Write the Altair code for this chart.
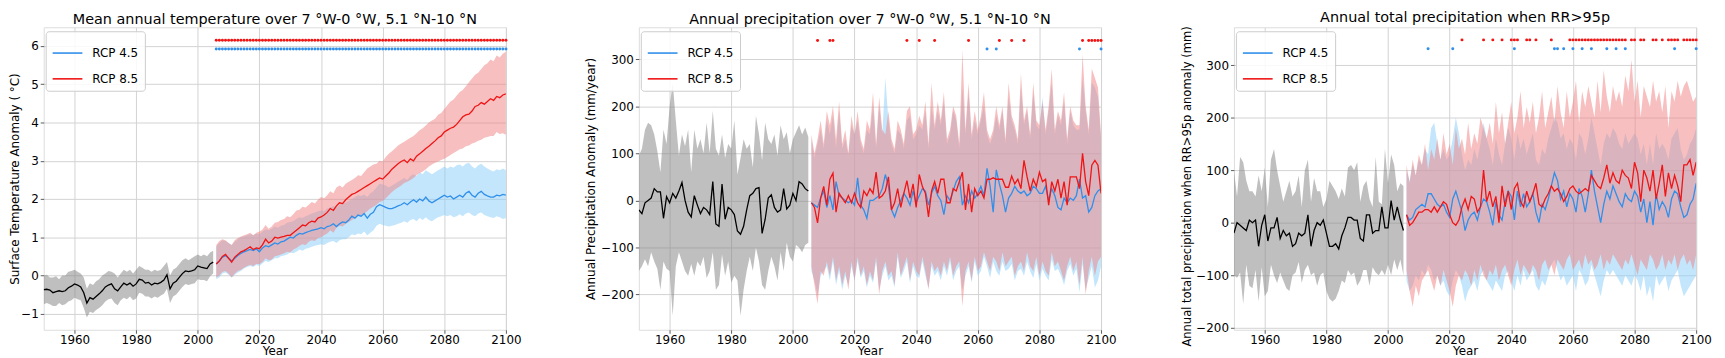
import altair as alt
import pandas as pd

X_TICKS = [1960, 1980, 2000, 2020, 2040, 2060, 2080, 2100]
HIST_START = 1950
PROJ_START = 2006

BLUE = "#2f8fea"
RED = "#f01414"
BAND_HIST = "#808080"
BAND_45 = "#87cefa"
BAND_85 = "#f08080"

# ---------------- Panel 1: temperature ----------------
t_hist = [-0.37, -0.36, -0.38, -0.45, -0.42, -0.40, -0.42, -0.40, -0.32, -0.28,
          -0.22, -0.25, -0.30, -0.45, -0.72, -0.58, -0.62, -0.55, -0.48, -0.40,
          -0.30, -0.25, -0.22, -0.35, -0.40, -0.30, -0.20, -0.25, -0.20, -0.28,
          -0.22, -0.10, -0.12, -0.20, -0.18, -0.25, -0.20, -0.22, -0.18, -0.12,
          0.02, -0.35, -0.20, -0.15, -0.05, 0.05, 0.12, 0.10, 0.12, 0.15,
          0.25, 0.22, 0.20, 0.18, 0.30, 0.35]
t_hist_hi = [0.00, 0.02, -0.05, -0.05, -0.02, -0.10, 0.00, 0.00, 0.10, 0.12,
             0.15, 0.10, 0.05, -0.05, -0.35, -0.20, -0.25, -0.15, -0.10, 0.00,
             0.05, 0.12, 0.10, 0.05, -0.05, 0.05, 0.15, 0.10, 0.15, 0.05,
             0.15, 0.25, 0.20, 0.15, 0.15, 0.10, 0.15, 0.12, 0.15, 0.25,
             0.35, 0.00, 0.15, 0.20, 0.30, 0.40, 0.45, 0.40, 0.45, 0.50,
             0.55, 0.50, 0.55, 0.50, 0.60, 0.65]
t_hist_lo = [-0.75, -0.72, -0.75, -0.80, -0.80, -0.72, -0.78, -0.75, -0.68, -0.65,
             -0.58, -0.62, -0.65, -0.85, -1.10, -0.95, -0.98, -0.90, -0.85, -0.78,
             -0.68, -0.62, -0.60, -0.72, -0.78, -0.65, -0.58, -0.62, -0.55, -0.65,
             -0.60, -0.45, -0.48, -0.55, -0.55, -0.60, -0.55, -0.58, -0.52, -0.48,
             -0.35, -0.72, -0.55, -0.50, -0.40, -0.30, -0.22, -0.25, -0.22, -0.20,
             -0.10, -0.12, -0.12, -0.15, -0.02, 0.05]

t_85 = [0.30, 0.38, 0.50, 0.55, 0.45, 0.35, 0.48, 0.55, 0.62, 0.65,
        0.70, 0.75, 0.68, 0.72, 0.70, 0.80, 0.95, 0.85, 0.90, 1.00,
        0.98, 1.00, 1.02, 1.05, 1.05, 1.12, 1.18, 1.25, 1.32, 1.30,
        1.38, 1.42, 1.40, 1.50, 1.53, 1.58, 1.65, 1.75, 1.70, 1.82,
        1.90, 1.88, 1.98, 2.05, 2.12, 2.15, 2.20, 2.25, 2.30, 2.35,
        2.40, 2.45, 2.50, 2.55, 2.52, 2.60, 2.68, 2.78, 2.85, 2.92,
        2.98, 3.02, 2.95, 3.05, 3.00, 3.12, 3.18, 3.25, 3.32, 3.38,
        3.45, 3.52, 3.60, 3.65, 3.75, 3.80, 3.85, 3.88, 3.95, 4.05,
        4.15, 4.20, 4.22, 4.30, 4.42, 4.45, 4.52, 4.48, 4.55, 4.62,
        4.58, 4.68, 4.65, 4.72, 4.75]
t_85_hi = [0.80, 0.90, 0.95, 0.92, 0.85, 0.80, 0.92, 0.98, 1.02, 1.05,
           1.08, 1.12, 1.05, 1.12, 1.15, 1.20, 1.32, 1.22, 1.28, 1.38,
           1.40, 1.45, 1.48, 1.55, 1.52, 1.60, 1.70, 1.72, 1.80, 1.78,
           1.85, 1.92, 1.88, 1.98, 2.05, 2.02, 2.10, 2.20, 2.15, 2.30,
           2.35, 2.30, 2.40, 2.45, 2.50, 2.55, 2.62, 2.60, 2.70, 2.80,
           2.85, 2.90, 2.92, 3.00, 2.98, 3.10, 3.18, 3.25, 3.32, 3.40,
           3.45, 3.50, 3.55, 3.60, 3.65, 3.72, 3.80, 3.85, 3.92, 4.00,
           4.05, 4.10, 4.20, 4.25, 4.35, 4.45, 4.55, 4.60, 4.70, 4.80,
           4.85, 4.95, 5.05, 5.15, 5.25, 5.30, 5.40, 5.50, 5.55, 5.65,
           5.60, 5.75, 5.70, 5.80, 5.85]
t_85_lo = [-0.05, 0.00, 0.10, 0.12, 0.05, -0.05, 0.05, 0.12, 0.15, 0.20,
           0.25, 0.28, 0.25, 0.30, 0.30, 0.35, 0.45, 0.40, 0.42, 0.50,
           0.52, 0.55, 0.58, 0.62, 0.60, 0.68, 0.72, 0.78, 0.82, 0.80,
           0.88, 0.92, 0.90, 0.98, 1.00, 1.05, 1.10, 1.18, 1.12, 1.25,
           1.30, 1.28, 1.35, 1.40, 1.45, 1.50, 1.55, 1.58, 1.62, 1.68,
           1.75, 1.80, 1.85, 1.92, 1.95, 2.02, 2.10, 2.18, 2.25, 2.30,
           2.35, 2.42, 2.45, 2.50, 2.55, 2.62, 2.68, 2.72, 2.78, 2.85,
           2.90, 2.95, 2.98, 3.02, 3.05, 3.10, 3.15, 3.20, 3.25, 3.30,
           3.32, 3.38, 3.40, 3.45, 3.48, 3.52, 3.55, 3.60, 3.62, 3.65,
           3.65, 3.75, 3.70, 3.72, 3.68]

t_45 = [0.30, 0.38, 0.48, 0.52, 0.45, 0.38, 0.45, 0.52, 0.58, 0.62,
        0.65, 0.68, 0.65, 0.70, 0.62, 0.72, 0.78, 0.75, 0.80, 0.85,
        0.82, 0.88, 0.90, 0.95, 1.00, 0.98, 1.05, 1.10, 1.08, 1.12,
        1.15, 1.18, 1.20, 1.22, 1.25, 1.22, 1.28, 1.30, 1.35, 1.28,
        1.35, 1.40, 1.38, 1.45, 1.55, 1.50, 1.58, 1.55, 1.62, 1.50,
        1.60, 1.65, 1.80, 1.85, 1.82, 1.78, 1.75, 1.75, 1.78, 1.82,
        1.85, 1.90, 1.85, 1.92, 1.98, 1.92, 2.00, 1.95, 2.05, 1.95,
        1.90, 1.95, 2.00, 2.05, 2.10, 2.05, 2.08, 2.00, 2.05, 2.10,
        2.05, 2.15, 2.20, 2.10, 2.05, 2.15, 2.20, 2.12, 2.08, 2.05,
        2.05, 2.10, 2.08, 2.12, 2.10]
t_45_hi = [0.75, 0.85, 0.92, 0.90, 0.85, 0.80, 0.88, 0.95, 1.00, 1.02,
           1.05, 1.08, 1.05, 1.10, 1.08, 1.15, 1.20, 1.18, 1.22, 1.28,
           1.25, 1.30, 1.32, 1.38, 1.40, 1.42, 1.48, 1.52, 1.50, 1.55,
           1.58, 1.62, 1.65, 1.68, 1.70, 1.68, 1.75, 1.78, 1.82, 1.78,
           1.85, 1.88, 1.90, 1.95, 2.00, 2.05, 2.10, 2.08, 2.12, 2.05,
           2.15, 2.20, 2.30, 2.40, 2.38, 2.35, 2.30, 2.35, 2.40, 2.45,
           2.50, 2.55, 2.50, 2.60, 2.65, 2.60, 2.70, 2.65, 2.75, 2.70,
           2.65, 2.70, 2.75, 2.80, 2.85, 2.80, 2.85, 2.82, 2.88, 2.90,
           2.85, 2.92, 2.95, 2.85, 2.80, 2.88, 2.92, 2.85, 2.80, 2.75,
           2.72, 2.78, 2.75, 2.80, 2.75]
t_45_lo = [-0.10, -0.05, 0.05, 0.08, 0.02, -0.05, 0.02, 0.08, 0.12, 0.18,
           0.22, 0.25, 0.22, 0.28, 0.25, 0.32, 0.38, 0.35, 0.40, 0.45,
           0.45, 0.50, 0.52, 0.55, 0.60, 0.58, 0.62, 0.68, 0.65, 0.70,
           0.72, 0.75, 0.78, 0.80, 0.82, 0.80, 0.85, 0.88, 0.90, 0.85,
           0.92, 0.95, 0.95, 1.00, 1.08, 1.05, 1.10, 1.08, 1.15, 1.05,
           1.12, 1.18, 1.30, 1.35, 1.32, 1.30, 1.28, 1.30, 1.32, 1.35,
           1.38, 1.42, 1.38, 1.45, 1.48, 1.42, 1.50, 1.45, 1.52, 1.45,
           1.42, 1.48, 1.52, 1.55, 1.58, 1.55, 1.58, 1.52, 1.55, 1.60,
           1.55, 1.62, 1.65, 1.58, 1.55, 1.62, 1.65, 1.58, 1.55, 1.52,
           1.50, 1.55, 1.52, 1.48, 1.50]

t_sig45_years = list(range(2006, 2101))
t_sig85_years = list(range(2006, 2101))
t_sig45_y = 5.92
t_sig85_y = 6.15

# ---------------- Panel 2: annual precipitation ----------------
p_hist = [-20, -28, -5, 0, 5, 25, 18, 18, -38, 8,
          -5, 15, 5, 20, 38, 0, -25, -35, 10, -10,
          -28, -15, -20, -30, 40, -50, -55, 35, -40, -15,
          -20, -30, -65, -72, -55, -20, 10, 15, 25, 27,
          -70, -40, 5, 12, -15, -25, -20, 25, -18, -10,
          15, 0, 40, 35, 25, 20]
p_hist_hi = [95, 110, 150, 165, 160, 140, 105, 60, 150, 120,
             200, 250, 170, 95, 140, 115, 150, 60, 150, 110,
             130, 100, 165, 100, 190, 110, 95, 140, 90, 120,
             110, 170, 55, 90, 130, 110, 120, 70, 180, 140,
             85, 165, 130, 120, 140, 95, 160, 130, 145, 100,
             130, 145, 160, 140, 155, 135]
p_hist_lo = [-150, -140, -125, -140, -110, -130, -145, -190, -130, -145,
             -150, -245, -140, -110, -130, -150, -160, -135, -160, -130,
             -140, -120, -165, -150, -110, -190, -180, -115, -160, -130,
             -175, -160, -170, -245, -190, -150, -120, -150, -100, -130,
             -180, -190, -150, -120, -140, -170, -110, -150, -90, -120,
             -130, -95, -100, -110, -95, -90]

p_45 = [-5, -10, -15, 5, 20, -15, 10, -20, 40, 10,
        5, 0, -5, 0, -10, 48, -10, -20, -38, 0,
        0, 5, 10, 25, 55, 30, -20, -35, -15, 0,
        15, 5, -10, 20, -5, 10, 25, 20, -10, 15,
        30, 10, 0, -30, 10, 0, 20, 40, 50, -10,
        10, -5, 20, 5, 15, 30, 10, 68, 30, -25,
        65, 35, 10, -25, 5, 15, 30, 20, 15, 20,
        10, 15, 30, 25, 15, 15, 30, 0, 25, 10,
        -15, -20, 5, -5, 5, 0, 10, 45, 5, 10,
        -25, -15, 10, 20, 25]
p_45_hi = [130, 90, 120, 150, 110, 170, 140, 180, 110, 190,
           110, 130, 95, 160, 140, 170, 120, 100, 150, 140,
           200, 110, 200, 140, 260, 170, 120, 100, 150, 140,
           110, 170, 180, 130, 140, 160, 150, 190, 110, 200,
           150, 190, 160, 210, 120, 140, 190, 170, 110, 240,
           140, 230, 130, 170, 140, 170, 200, 140, 120, 140,
           180, 150, 190, 120, 220, 170, 150, 120, 240, 160,
           190, 130, 230, 160, 150, 220, 140, 190, 250, 140,
           180, 160, 210, 120, 190, 160, 150, 150, 260, 190,
           140, 250, 240, 220, 130]
p_45_lo = [-150, -170, -200, -160, -150, -140, -170, -130, -180, -150,
           -190, -160, -180, -140, -170, -130, -165, -150, -185, -160,
           -175, -130, -190, -160, -140, -170, -160, -185, -120, -165,
           -150, -130, -175, -140, -160, -165, -130, -160, -185, -140,
           -160, -150, -170, -140, -160, -130, -170, -150, -140, -190,
           -160, -140, -175, -130, -160, -150, -120, -140, -165, -130,
           -150, -160, -130, -150, -145, -135, -170, -150, -145, -160,
           -130, -150, -165, -135, -170, -145, -160, -170, -125, -150,
           -145, -160, -180, -150, -135, -160, -145, -195, -135, -190,
           -165, -140, -185, -170, -140]

p_85 = [-5, -15, -48, 5, 30, -10, 45, 58, -25, 15,
        5, -5, 10, -5, 15, -5, -15, 20, 10, 25,
        15, 60, 5, 10, 20, 50, -20, -5, 25, -15,
        15, 42, 5, 35, -15, 55, 30, 15, -35, 20,
        40, 15, 45, 45, -5, -5, 25, 20, 40, 60,
        -20, 35, -25, 25, 10, 20, 5, 45, 45, 48,
        45, 45, 45, 28, 28, 52, 35, 45, 25, 85,
        50, 20, 45, 30, 60, 40, 45, -10, 40, 20,
        45, 5, 40, -10, 50, 50, 50, 25, 100, 40,
        10, 75, 85, 75, 15]
p_85_hi = [140, 100, 130, 170, 120, 190, 160, 200, 130, 210,
           120, 150, 100, 180, 140, 190, 130, 110, 170, 150,
           230, 120, 220, 150, 140, 190, 130, 110, 170, 150,
           120, 190, 200, 140, 150, 180, 160, 210, 120, 250,
           160, 210, 170, 230, 130, 150, 200, 180, 120, 320,
           150, 250, 140, 190, 150, 180, 230, 150, 130, 150,
           200, 160, 200, 130, 250, 180, 160, 130, 270, 170,
           200, 140, 250, 170, 160, 210, 150, 200, 280, 150,
           190, 170, 230, 130, 200, 170, 160, 160, 310, 200,
           150, 280, 260, 240, 140]
p_85_lo = [-140, -180, -220, -150, -160, -130, -160, -120, -170, -140,
           -180, -150, -190, -130, -170, -120, -160, -140, -180, -150,
           -170, -120, -200, -150, -130, -160, -150, -180, -110, -160,
           -140, -120, -170, -130, -150, -160, -120, -150, -190, -130,
           -150, -140, -160, -130, -150, -120, -160, -140, -130, -225,
           -150, -130, -170, -120, -150, -140, -110, -130, -150, -120,
           -130, -150, -110, -140, -130, -120, -160, -140, -130, -150,
           -110, -140, -150, -120, -160, -130, -150, -160, -110, -140,
           -130, -150, -170, -140, -120, -150, -130, -180, -120, -200,
           -150, -120, -160, -130, -120]

p_sig45_years = [2063, 2066, 2093, 2100]
p_sig85_years = [2008, 2012, 2013, 2037, 2041, 2046, 2057, 2067, 2071, 2075,
                 2094, 2096, 2097, 2098, 2099, 2100]
p_sig45_y = 322
p_sig85_y = 340

# ---------------- Panel 3: precipitation when RR>95p ----------------
r_hist = [-20, 0, -5, -10, -15, 5, 0, 5, -45, -5,
          15, -35, -10, -10, 10, -30, -15, -25, -20, -45,
          -40, -20, -25, -20, 15, -45, -15, 0, -5, 5,
          -20, -45, -45, -40, -50, -25, -10, 10, 10, 5,
          5, -30, -35, 15, 15, -20, -15, -15, 30, -10,
          -10, 42, 5, 30, 5, -15]
r_hist_hi = [100, 50, 125, 115, 80, 60, 60, 50, 90, 60,
             105, 30, 120, 140, 100, 70, 40, 60, 80, 50,
             60, 90, 30, 100, 120, 40, 85, 60, 60, 30,
             45, 80, 70, 60, 45, 65, 50, 105, 110, 100,
             115, 40, 70, 80, 45, 30, 125, 40, 35, 140,
             75, 130, 110, 60, 75, 70]
r_hist_lo = [-100, -105, -95, -155, -80, -120, -125, -90, -150, -85,
             -140, -130, -80, -100, -115, -95, -110, -125, -130, -100,
             -95, -75, -115, -90, -80, -100, -95, -120, -100, -95,
             -130, -145, -150, -145, -130, -110, -115, -90, -100, -95,
             -120, -110, -90, -90, -120, -85, -95, -100, -90, -100,
             -80, -100, -70, -90, -70, -100]

r_45 = [15, 5, 10, 25, 30, 35, 30, 55, 55, 45,
        35, 30, 35, 20, 10, 45, 60, 40, 20, -15,
        5, 15, 20, 5, 30, 45, 40, 20, -5, 40,
        15, 5, 40, 60, 50, 5, 60, 30, 55, 30,
        40, 55, 20, 0, 35, 25, 45, 70, 95, 80,
        45, 60, 30, 55, 45, 20, 65, 50, 20, 55,
        100, 60, 30, 0, 35, 60, 45, 70, 55, 40,
        30, 55, 45, 40, 60, 50, 20, 45, 0, 40,
        -5, 55, 25, 40, 30, 10, 45, 60, 55, 30,
        10, 15, 35, 45, 75]
r_45_hi = [100, 80, 110, 90, 120, 110, 140, 130, 180, 190,
           150, 120, 140, 120, 130, 160, 200, 170, 130, 100,
           120, 110, 140, 120, 150, 190, 160, 140, 110, 160,
           130, 110, 150, 180, 160, 120, 170, 140, 160, 130,
           150, 170, 120, 110, 140, 130, 160, 180, 200, 190,
           160, 170, 140, 160, 150, 120, 170, 160, 130, 160,
           200, 170, 140, 110, 150, 170, 160, 180, 170, 150,
           140, 170, 150, 160, 170, 160, 130, 150, 110, 150,
           110, 170, 140, 150, 140, 120, 160, 170, 180, 140,
           120, 130, 150, 160, 180]
r_45_lo = [-110, -130, -120, -100, -110, -90, -100, -80, -90, -110,
           -100, -120, -110, -130, -140, -110, -90, -100, -120, -150,
           -130, -120, -110, -130, -100, -90, -110, -120, -130, -110,
           -120, -130, -100, -90, -110, -130, -100, -120, -90, -110,
           -100, -90, -120, -130, -110, -120, -100, -80, -70, -90,
           -110, -100, -120, -110, -100, -130, -90, -100, -120, -110,
           -80, -100, -120, -140, -110, -90, -100, -90, -100, -110,
           -120, -100, -110, -120, -100, -110, -130, -100, -140, -120,
           -150, -100, -120, -110, -100, -130, -110, -100, -90, -120,
           -140, -130, -120, -110, -100]

r_85 = [15, -5, 0, 10, 20, 20, 25, 25, 20, 30,
        20, 30, 40, 35, 15, 0, -5, 5, 30, 45,
        25, 50, 45, 20, 30, 100, 40, 60, 30, 50,
        0, 70, 30, 60, 25, 65, 75, 40, 30, 60,
        40, 55, 75, 35, 30, 45, 55, 70, 60, 65,
        55, 40, 50, 65, 70, 60, 55, 60, 65, 60,
        90, 80, 70, 65, 85, 110, 75, 95, 80, 75,
        100, 90, 85, 65, 115, 95, 40, 100, 85, 60,
        100, 45, 75, 110, 50, 95, 65, 90, 70, 40,
        110, 110, 120, 90, 115]
r_85_hi = [110, 75, 120, 90, 130, 110, 150, 100, 140, 120,
           160, 120, 170, 130, 150, 110, 180, 140, 160, 130,
           190, 140, 170, 150, 200, 180, 160, 190, 150, 230,
           170, 210, 150, 190, 230, 170, 200, 250, 180, 220,
           190, 230, 170, 200, 250, 180, 210, 240, 190, 260,
           210, 180, 250, 200, 230, 270, 190, 250, 220, 260,
           230, 200, 270, 210, 290, 240, 210, 260, 230, 250,
           220, 280, 250, 310, 230, 270, 200, 260, 240, 220,
           270, 230, 250, 210, 260, 180, 250, 230, 270, 240,
           260, 270, 250, 230, 240]
r_85_lo = [-90, -130, -160, -120, -140, -110, -100, -90, -110, -130,
           -100, -120, -90, -110, -130, -160, -120, -100, -110, -90,
           -100, -120, -90, -110, -80, -100, -110, -90, -100, -80,
           -110, -90, -80, -100, -120, -90, -70, -100, -80, -90,
           -100, -80, -90, -110, -80, -70, -90, -80, -100, -70,
           -80, -90, -70, -60, -90, -80, -70, -90, -60, -80,
           -70, -90, -80, -60, -90, -70, -80, -60, -70, -80,
           -90, -70, -80, -60, -80, -100, -70, -80, -90, -60,
           -70, -90, -80, -60, -90, -70, -80, -60, -90, -70,
           -60, -80, -70, -90, -60]

r_sig45_years = [2013, 2021, 2041, 2054, 2055, 2057, 2060, 2063, 2066, 2071,
                 2074, 2077, 2093, 2100]
r_sig85_years = [2024, 2031, 2034, 2037, 2040, 2041, 2042, 2045, 2046, 2048,
                 2053] + list(range(2059, 2078)) + [2079, 2080, 2082, 2083, 2086,
                 2087, 2089, 2091, 2092, 2093, 2094, 2096, 2097, 2098, 2099, 2100]
r_sig45_y = 331
r_sig85_y = 348


def make_df(hist, hist_lo, hist_hi, m45, lo45, hi45, m85, lo85, hi85,
            s45, y45, s85, y85):
    assert len(hist) == len(hist_lo) == len(hist_hi) == 56
    for arr in (m45, lo45, hi45, m85, lo85, hi85):
        assert len(arr) == 95, len(arr)
    rows = []
    for i, v in enumerate(hist):
        rows.append(dict(year=HIST_START + i, kind="hist", series="Historical",
                         value=v, lo=hist_lo[i], hi=hist_hi[i]))
    for i in range(len(m45)):
        rows.append(dict(year=PROJ_START + i, kind="r45", series="RCP 4.5",
                         value=m45[i], lo=lo45[i], hi=hi45[i]))
    for i in range(len(m85)):
        rows.append(dict(year=PROJ_START + i, kind="r85", series="RCP 8.5",
                         value=m85[i], lo=lo85[i], hi=hi85[i]))
    for yr in s45:
        rows.append(dict(year=yr, kind="d45", series="RCP 4.5", value=y45, lo=y45, hi=y45))
    for yr in s85:
        rows.append(dict(year=yr, kind="d85", series="RCP 8.5", value=y85, lo=y85, hi=y85))
    return pd.DataFrame(rows)


AX_COMMON = dict(
    grid=True, gridColor="#d2d2d2", gridWidth=1, domain=False,
    tickColor="#333333", tickSize=3.5, tickWidth=0.8,
    labelFontSize=12, labelColor="black", titleColor="black",
    titleFontWeight="normal", labelFont="DejaVu Sans", titleFont="DejaVu Sans",
)

PLOT_W = 466
PLOT_H = 305


def panel(title, ytitle, ydomain, yticks, extent, tpad, df, title_y=None, ytitle_size=12):
    xenc = alt.X("year:Q",
                 scale=alt.Scale(domain=[1950, 2100], nice=False, zero=False),
                 axis=alt.Axis(values=X_TICKS, format="d", title="Year", titleFontSize=12,
                               titlePadding=0, labelPadding=1, labelFlush=False,
                               labelOverlap=False, **AX_COMMON))
    yscale = alt.Scale(domain=ydomain, nice=False, zero=False)
    yextra = {}
    if title_y is not None:
        yextra["titleY"] = title_y
    yaxis = alt.Axis(values=yticks, format="d", title=ytitle, titlePadding=tpad,
                     titleFontSize=ytitle_size,
                     labelPadding=2, minExtent=extent, maxExtent=extent,
                     labelOverlap=False, **yextra, **AX_COMMON)

    def ye(field):
        return alt.Y(field, scale=yscale, axis=yaxis, title=ytitle)

    base = alt.Chart(df).encode(x=xenc)

    def band(kind, color, op):
        return base.transform_filter(alt.datum.kind == kind).mark_area(
            color=color, opacity=op, clip=True, interpolate="linear"
        ).encode(y=ye("lo:Q"), y2=alt.Y2("hi:Q"))

    legend = alt.Legend(title=None, orient="none", legendX=2, legendY=4,
                        symbolType="stroke", symbolSize=900, symbolStrokeWidth=1.6,
                        labelFontSize=12, labelFont="DejaVu Sans", labelColor="black",
                        fillColor="rgba(255,255,255,0.85)", strokeColor="#cccccc",
                        padding=6, cornerRadius=3, rowPadding=4, labelOffset=9)
    cenc = alt.Color("series:N",
                     scale=alt.Scale(domain=["RCP 4.5", "RCP 8.5"], range=[BLUE, RED]),
                     legend=legend)

    hist_line = base.transform_filter(alt.datum.kind == "hist").mark_line(
        color="black", strokeWidth=1.3, clip=True).encode(y=ye("value:Q"))
    l45 = base.transform_filter(alt.datum.kind == "r45").mark_line(
        strokeWidth=1.3, clip=True).encode(y=ye("value:Q"), color=cenc)
    l85 = base.transform_filter(alt.datum.kind == "r85").mark_line(
        strokeWidth=1.3, clip=True).encode(y=ye("value:Q"), color=cenc)
    d45 = base.transform_filter(alt.datum.kind == "d45").mark_circle(
        color=BLUE, size=9, opacity=1).encode(y=ye("value:Q"))
    d85 = base.transform_filter(alt.datum.kind == "d85").mark_circle(
        color=RED, size=9, opacity=1).encode(y=ye("value:Q"))

    return alt.layer(
        band("hist", BAND_HIST, 0.5),
        band("r45", BAND_45, 0.5),
        band("r85", BAND_85, 0.5),
        hist_line, l45, l85, d45, d85,
    ).properties(
        width=PLOT_W, height=PLOT_H,
        title=alt.TitleParams(title, fontSize=14.5, fontWeight="normal",
                              font="DejaVu Sans", color="black", anchor="middle", offset=0),
    )


df1 = make_df(t_hist, t_hist_lo, t_hist_hi, t_45, t_45_lo, t_45_hi, t_85, t_85_lo, t_85_hi,
              t_sig45_years, t_sig45_y, t_sig85_years, t_sig85_y)
df2 = make_df(p_hist, p_hist_lo, p_hist_hi, p_45, p_45_lo, p_45_hi, p_85, p_85_lo, p_85_hi,
              p_sig45_years, p_sig45_y, p_sig85_years, p_sig85_y)
df3 = make_df(r_hist, r_hist_lo, r_hist_hi, r_45, r_45_lo, r_45_hi, r_85, r_85_lo, r_85_hi,
              r_sig45_years, r_sig45_y, r_sig85_years, r_sig85_y)

c1 = panel("Mean annual temperature over 7 °W-0 °W, 5.1 °N-10 °N",
           "Surface Temperature Anomaly ( °C)", [-1.42, 6.49],
           [-1, 0, 1, 2, 3, 4, 5, 6], 21, 1, df1)
c2 = panel("Annual precipitation over 7 °W-0 °W, 5.1 °N-10 °N",
           "Annual Precipitation Anomaly (mm/year)", [-275, 368],
           [-200, -100, 0, 100, 200, 300], 38, 4, df2)
c3 = panel("Annual total precipitation when RR>95p",
           "Annual total precipitation when RR>95p anomaly (mm)", [-204, 372],
           [-200, -100, 0, 100, 200, 300], 38, 4, df3, title_y=160, ytitle_size=11.6)

chart = alt.HConcatChart(hconcat=[c1, c2, c3], spacing=134, bounds="flush").resolve_scale(
    x="independent", y="independent", color="independent"
).resolve_legend(color="independent").properties(
    padding={"left": 0, "top": 0, "right": 5, "bottom": 0}
).configure_view(stroke="#404040", strokeWidth=1).configure(font="DejaVu Sans")

chart.save("out.html", embed_options={"renderer": "svg", "actions": False})
